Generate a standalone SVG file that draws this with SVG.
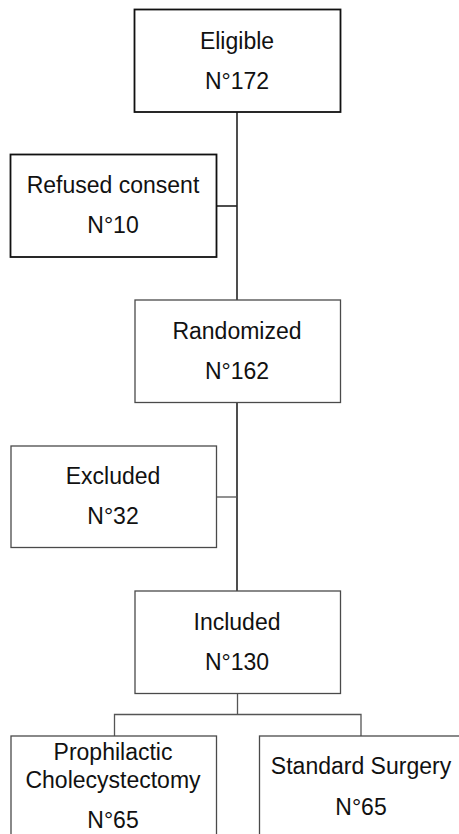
<svg xmlns="http://www.w3.org/2000/svg" width="459" height="834" viewBox="0 0 459 834">
<style>
.box{fill:#fff;stroke:#4a4a4a;stroke-width:1.3}
.bold{stroke:#111;stroke-width:1.8}
.t{font-family:"Liberation Sans",Arial,sans-serif;font-size:23px;fill:#111;text-anchor:middle}
.c{fill:none;stroke:#222;stroke-width:1.6}
.cl{fill:none;stroke:#555;stroke-width:1.3}
</style>
<rect width="459" height="834" fill="#fff"/>
<g id="connectors">
<path class="c" d="M237 112V300"/>
<path class="c" d="M216 206H237"/>
<path class="c" d="M237 403V591"/>
<path class="cl" d="M216 497H237"/>
<path class="cl" d="M237.5 693V714.5M114.5 736V714.5H361V736"/>
</g>
<g id="eligible">
<rect class="box bold" x="134.5" y="9.5" width="206" height="102.5"/>
<text class="t" x="237" y="49">Eligible</text>
<text class="t" x="237" y="89">N°172</text>
</g>
<g id="refused">
<rect class="box bold" x="10.5" y="154.5" width="206" height="102.5"/>
<text class="t" x="113" y="193">Refused consent</text>
<text class="t" x="113" y="233">N°10</text>
</g>
<g id="randomized">
<rect class="box" x="135" y="300" width="205.5" height="102.5"/>
<text class="t" x="237" y="339">Randomized</text>
<text class="t" x="237" y="379">N°162</text>
</g>
<g id="excluded">
<rect class="box" x="11" y="446" width="205.5" height="101.5"/>
<text class="t" x="113" y="484">Excluded</text>
<text class="t" x="113" y="524">N°32</text>
</g>
<g id="included">
<rect class="box" x="135" y="591" width="205.5" height="102.5"/>
<text class="t" x="237" y="630">Included</text>
<text class="t" x="237" y="670">N°130</text>
</g>
<g id="prophilactic">
<rect class="box" x="11" y="736" width="205.5" height="110"/>
<text class="t" x="113" y="760">Prophilactic</text>
<text class="t" x="113" y="788">Cholecystectomy</text>
<text class="t" x="113" y="828">N°65</text>
</g>
<g id="standard">
<rect class="box" x="259.5" y="736" width="205" height="110"/>
<text class="t" x="361" y="774">Standard Surgery</text>
<text class="t" x="361" y="815">N°65</text>
</g>
</svg>
